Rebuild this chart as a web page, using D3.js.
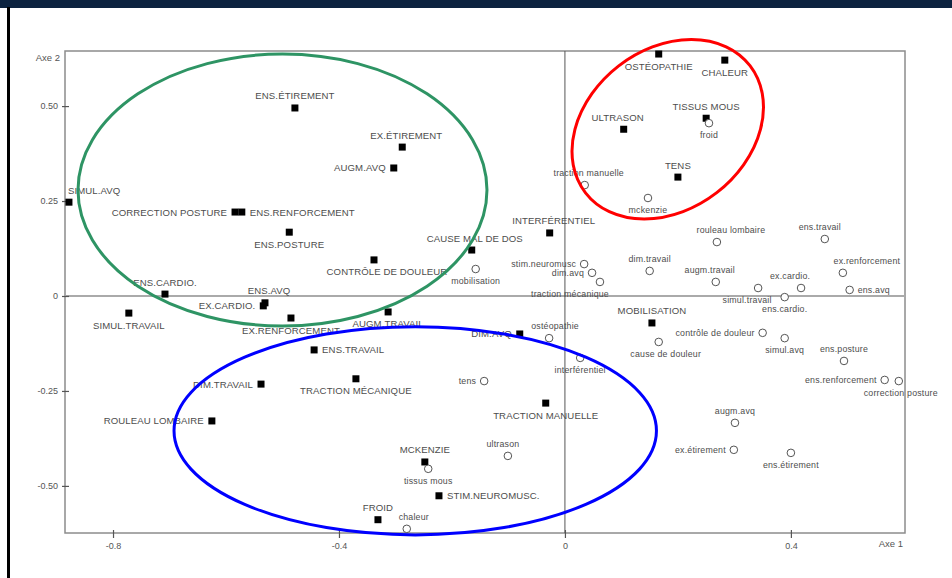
<!DOCTYPE html>
<html>
<head>
<meta charset="utf-8">
<script src="https://cdn.jsdelivr.net/npm/d3@7/dist/d3.min.js"></script>
<style>
  html, body { margin: 0; padding: 0; background: #fff; }
  svg { display: block; font-family: "Liberation Sans", Arial, sans-serif; }
</style>
</head>
<body>
<svg id="chart" width="952" height="578"></svg>
<script>
// ---- Data (factorial map coordinates) ----
const upperNames = ["SIMUL.AVQ","ENS.ÉTIREMENT","EX.ÉTIREMENT","AUGM.AVQ","CORRECTION POSTURE","ENS.RENFORCEMENT","ENS.POSTURE","CONTRÔLE DE DOULEUR","CAUSE MAL DE DOS","INTERFÉRENTIEL","ENS.CARDIO.","SIMUL.TRAVAIL","ENS.AVQ","EX.CARDIO.","EX.RENFORCEMENT","AUGM.TRAVAIL","ENS.TRAVAIL","DIM.TRAVAIL","TRACTION MÉCANIQUE","ROULEAU LOMBAIRE","DIM.AVQ","TRACTION MANUELLE","MCKENZIE","STIM.NEUROMUSC.","FROID","MOBILISATION","OSTÉOPATHIE","CHALEUR","TISSUS MOUS","ULTRASON","TENS"];
const upperX = [-0.878,-0.478,-0.288,-0.303,-0.584,-0.572,-0.488,-0.338,-0.165,-0.027,-0.708,-0.772,-0.531,-0.534,-0.485,-0.313,-0.444,-0.538,-0.370,-0.625,-0.080,-0.034,-0.248,-0.223,-0.331,0.154,0.166,0.283,0.250,0.104,0.200];
const upperY = [0.247,0.495,0.392,0.337,0.221,0.221,0.168,0.095,0.121,0.166,0.005,-0.045,-0.018,-0.026,-0.058,-0.042,-0.142,-0.232,-0.218,-0.329,-0.100,-0.282,-0.437,-0.526,-0.589,-0.071,0.637,0.621,0.468,0.439,0.313];

const lowerNames = ["froid","traction manuelle","mckenzie","rouleau lombaire","ens.travail","dim.travail","augm.travail","ex.renforcement","ens.avq","ex.cardio.","simul.travail","ens.cardio.","contrôle de douleur","simul.avq","ens.posture","ens.renforcement","correction posture","cause de douleur","stim.neuromusc","dim.avq","traction mécanique","mobilisation","ostéopathie","interférentiel","tens","ultrason","tissus mous","chaleur","augm.avq","ex.étirement","ens.étirement"];
const lowerX = [0.255,0.035,0.147,0.269,0.460,0.150,0.267,0.492,0.504,0.418,0.342,0.389,0.350,0.389,0.494,0.566,0.591,0.166,0.034,0.048,0.062,-0.158,-0.028,0.027,-0.143,-0.101,-0.242,-0.280,0.301,0.299,0.400];
const lowerY = [0.455,0.292,0.258,0.142,0.150,0.066,0.037,0.061,0.016,0.021,0.021,-0.003,-0.097,-0.111,-0.171,-0.221,-0.224,-0.121,0.084,0.061,0.037,0.071,-0.111,-0.163,-0.224,-0.421,-0.455,-0.613,-0.334,-0.405,-0.413];

const xTickValues = [-0.8, -0.4, 0, 0.4];
const xTickLabels = ["-0.8", "-0.4", "0", "0.4"];
const yTickValues = [0.5, 0.25, 0, -0.25, -0.5];
const yTickLabels = ["0.50", "0.25", "0", "-0.25", "-0.50"];
const xAxisTitle = "Axe 1";
const yAxisTitle = "Axe 2";

// Ellipse groupings (centre and semi-axes in data units)
const groupCx = [-0.500, 0.182, -0.265];
const groupCy = [0.279, 0.439, -0.355];
const groupRx = [0.362, 0.184, 0.427];
const groupRy = [0.358, 0.211, 0.274];

// ---- Label layout (placement codes & nudges) ----
const upperPlace = ["ts","t","t","l","l","r","b","b","t","t","t","b","t","l","b","b","r","l","b","l","l","b","t","r","t","t","b","b","t","t","t"];
const upperNudge = {"EX.ÉTIREMENT":4,"CONTRÔLE DE DOULEUR":13,"ULTRASON":-6,"CAUSE MAL DE DOS":3,"INTERFÉRENTIEL":4,"ENS.AVQ":4};
const lowerPlace = ["b","t","b","t","t","t","t","t","r","t","b","b","l","b","t","l","b","b","l","l","b","b","t","b","l","t","b","t","t","l","b"];
const lowerNudge = {"rouleau lombaire":14,"ens.travail":-5,"augm.travail":-6,"ex.renforcement":24,"ex.cardio.":-11,"simul.travail":-11,"cause de douleur":7,"traction mécanique":-30,"ostéopathie":6,"ultrason":-5,"chaleur":7,"traction manuelle":4,"correction posture":2};

// ---- Scales ----
const svg = d3.select("#chart");
const x = d3.scaleLinear().domain([-0.885, 0.602]).range([65, 905]);
const y = d3.scaleLinear().domain([-0.624, 0.645]).range([533, 51]);

// page frame
svg.append("rect").attr("x",0).attr("y",0).attr("width",952).attr("height",8).attr("fill","#0c2340");
svg.append("rect").attr("x",7).attr("y",7).attr("width",3).attr("height",571).attr("fill","#000");

// plot frame
svg.append("rect").attr("x",x.range()[0]).attr("y",y.range()[1])
  .attr("width",x.range()[1]-x.range()[0]).attr("height",y.range()[0]-y.range()[1])
  .attr("fill","none").attr("stroke","#8c8c8c").attr("stroke-width",1.5);

// zero lines
svg.append("line").attr("x1",x.range()[0]).attr("x2",x.range()[1]).attr("y1",y(0)).attr("y2",y(0))
  .attr("stroke","#aaaaaa").attr("stroke-width",2);
svg.append("line").attr("x1",x(0)).attr("x2",x(0)).attr("y1",y.range()[1]).attr("y2",y.range()[0])
  .attr("stroke","#555").attr("stroke-width",1);

// axes
const yAxis = d3.axisLeft(y).tickValues(yTickValues).tickFormat((d,i)=>yTickLabels[i]).tickSize(3).tickPadding(4);
const gy = svg.append("g").attr("transform",`translate(${x.range()[0]},0)`).call(yAxis);
gy.select(".domain").remove();
gy.selectAll(".tick line").attr("x1",4).attr("x2",-3).attr("stroke","#555").attr("stroke-width",1.2);
gy.selectAll(".tick text").attr("fill","#555").attr("font-size",9).attr("font-family","Liberation Sans, Arial, sans-serif");

const xAxis = d3.axisBottom(x).tickValues(xTickValues).tickFormat((d,i)=>xTickLabels[i]).tickSize(5).tickPadding(5);
const gx = svg.append("g").attr("transform",`translate(0,${y.range()[0]})`).call(xAxis);
gx.select(".domain").remove();
gx.selectAll(".tick line").attr("y1",-3).attr("y2",5).attr("stroke","#555").attr("stroke-width",1.2);
gx.selectAll(".tick text").attr("fill","#555").attr("font-size",9).attr("font-family","Liberation Sans, Arial, sans-serif");

svg.append("text").attr("x",x.range()[0]-5).attr("y",y.range()[1]+10).attr("text-anchor","end")
  .attr("font-size",9.5).attr("fill","#555").text(yAxisTitle);
svg.append("text").attr("x",x.range()[1]-2).attr("y",y.range()[0]+14).attr("text-anchor","end")
  .attr("font-size",9.5).attr("fill","#555").text(xAxisTitle);

// points
function placeLabel(sel, px, py, code, nudge, offs) {
  let tx = px + (nudge||0), ty = py, anchor = "middle";
  if (code === "t") { ty = py - offs.t; }
  else if (code === "ts") { ty = py - offs.t; anchor = "start"; tx = px - 1; }
  else if (code === "b") { ty = py + offs.b; }
  else if (code === "l") { tx = px - offs.s; anchor = "end"; }
  else if (code === "r") { tx = px + offs.s; anchor = "start"; }
  sel.attr("x",tx).attr("y",ty).attr("text-anchor",anchor).attr("dominant-baseline","central");
}

const gU = svg.append("g");
upperNames.forEach((n,i)=>{
  const px = x(upperX[i]), py = y(upperY[i]);
  gU.append("rect").attr("x",px-3.5).attr("y",py-3.5).attr("width",7).attr("height",7).attr("fill","#000");
  const t = gU.append("text").attr("font-size",9.6).attr("fill","#4d4d4d").attr("letter-spacing",0.1).text(n);
  placeLabel(t, px, py, upperPlace[i], upperNudge[n], {t:12, b:12, s:8});
});

const gL = svg.append("g");
lowerNames.forEach((n,i)=>{
  const px = x(lowerX[i]), py = y(lowerY[i]);
  gL.append("circle").attr("cx",px).attr("cy",py).attr("r",3.8).attr("fill","#fff").attr("stroke","#555").attr("stroke-width",1);
  const t = gL.append("text").attr("font-size",8.8).attr("fill","#4d4d4d").attr("letter-spacing",0.2).text(n);
  placeLabel(t, px, py, lowerPlace[i], lowerNudge[n], {t:12, b:12, s:8});
});

// ellipses
const ellColors = ["#2e9464", "#ff0000", "#0000ff"];
const ellRot = [0, -37.7, 0];
groupCx.forEach((c,i)=>{
  const cx = x(c), cy = y(groupCy[i]);
  const rx = x(c + groupRx[i]) - cx, ry = cy - y(groupCy[i] + groupRy[i]);
  svg.append("ellipse").attr("cx",0).attr("cy",0).attr("rx",rx).attr("ry",ry)
    .attr("transform",`translate(${cx},${cy}) rotate(${ellRot[i]})`)
    .attr("fill","none").attr("stroke",ellColors[i]).attr("stroke-width",3);
});
</script>
</body>
</html>
